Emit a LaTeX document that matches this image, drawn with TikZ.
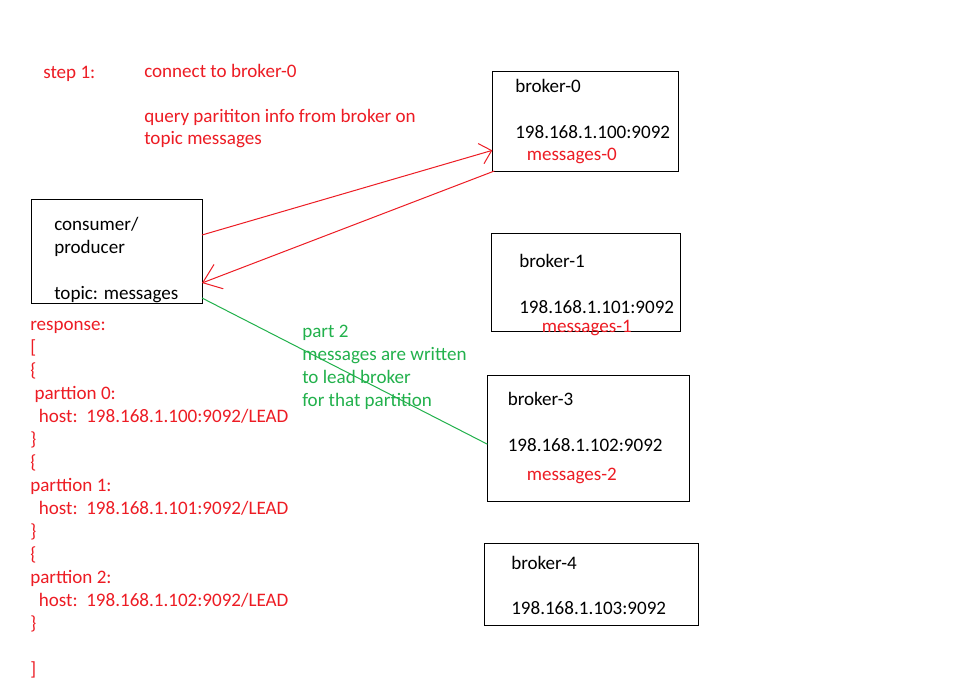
\documentclass[tikz,border=0pt]{standalone}
\usepackage{fontspec}
\setmainfont{Carlito}
\usetikzlibrary{arrows.meta,calc}
\definecolor{pred}{RGB}{237,28,36}
\definecolor{pgreen}{RGB}{34,177,76}
\begin{document}
\begin{tikzpicture}[x=0.75pt,y=-0.75pt,
  every node/.style={font=\fontsize{14.3}{17.25}\selectfont},
  box/.style={draw=black,line width=0.75pt,rectangle,inner sep=0pt,outer sep=0pt},
  txt/.style={anchor=base west,inner sep=0pt,text=black},
  rtxt/.style={anchor=base west,inner sep=0pt,text=pred},
  gtxt/.style={anchor=base west,inner sep=0pt,text=pgreen},
  redarrow/.style={draw=pred,line width=0.75pt},
  greenline/.style={draw=pgreen,line width=0.75pt}]
\useasboundingbox[fill=white] (0,0) rectangle (960,686);

% boxes
\node[box,minimum width=128.25pt,minimum height=78pt] (cp) at (116.5,251) {};
\node[box,minimum width=139.8pt,minimum height=74.5pt] (b0) at (585.5,121.35) {};
\node[box,minimum width=141.45pt,minimum height=73pt] (b1) at (586,282.35) {};
\node[box,minimum width=151.5pt,minimum height=95pt] (b3) at (588.3,438.65) {};
\node[box,minimum width=160.8pt,minimum height=61pt] (b4) at (591.5,584.65) {};

% step 1 texts
\node[rtxt] (s1) at (43,78) {step 1:};
\node[rtxt] (s2) at (144,77) {connect to broker-0};
\node[rtxt] (s3) at (144,122) {query parititon info from broker on};
\node[rtxt] (s4) at (144,144.5) {topic messages};

% consumer text
\node[txt] (c1) at (54,230) {consumer/};
\node[txt] (c2) at (54,253) {producer};
\node[txt] (c3) at (54,299) {topic: messages};

% broker texts
\node[txt] (b0a) at (515,92) {broker-0};
\node[txt] (b0b) at (515,138) {198.168.1.100:9092};
\node[rtxt] (b0c) at (526.5,160.5) {messages-0};

\node[txt] (b1a) at (519,267.5) {broker-1};
\node[txt] (b1b) at (519,313.5) {198.168.1.101:9092};
\node[rtxt] (b1c) at (541.5,332) {messages-1};

\node[txt] (b3a) at (507.5,405.7) {broker-3};
\node[txt] (b3b) at (507.5,451.7) {198.168.1.102:9092};
\node[rtxt] (b3c) at (526.5,480) {messages-2};

\node[txt] (b4a) at (511,569) {broker-4};
\node[txt] (b4b) at (511,614.3) {198.168.1.103:9092};

% response text
\node[rtxt] (r1) at (30,330.7) {response:};
\node[rtxt] (r2) at (30,353.7) {[};
\node[rtxt] (r3) at (30,376.7) {\{};
\node[rtxt] (r4) at (30,399.7) {\ parttion 0:};
\node[rtxt] (r5) at (30,422.7) {\ \ host:\ \ 198.168.1.100:9092/LEAD};
\node[rtxt] (r6) at (30,445.7) {\}};
\node[rtxt] (r7) at (30,468.7) {\{};
\node[rtxt] (r8) at (30,491.7) {parttion 1:};
\node[rtxt] (r9) at (30,514.7) {\ \ host:\ \ 198.168.1.101:9092/LEAD};
\node[rtxt] (r10) at (30,537.7) {\}};
\node[rtxt] (r11) at (30,560.7) {\{};
\node[rtxt] (r12) at (30,583.7) {parttion 2:};
\node[rtxt] (r13) at (30,606.7) {\ \ host:\ \ 198.168.1.102:9092/LEAD};
\node[rtxt] (r14) at (30,629.7) {\}};
\node[rtxt] (r15) at (30,675.7) {]};

% part 2 text
\node[gtxt] (g1) at (302,337.3) {part 2};
\node[gtxt] (g2) at (302,360.3) {messages are written};
\node[gtxt] (g3) at (302,383.3) {to lead broker};
\node[gtxt] (g4) at (302,406.3) {for that partition};

% connectors
\coordinate (a1s) at ($(cp.east)+(0,-16)$);
\coordinate (a1e) at ($(b0.west)+(0,29)$);
\coordinate (a2e) at ($(cp.east)+(0,32)$);
\coordinate (gs) at ($(cp.south east)+(0,-5)$);
\coordinate (ge) at ($(b3.west)+(0,5.5)$);
\draw[redarrow,-{Straight Barb[length=8.25pt,width=15.75pt,line width=0.75pt]}] (a1s) -- (a1e);
\draw[redarrow,-{Straight Barb[length=12.75pt,width=19.5pt,line width=0.75pt]}] ($(b0.south west)+(2,0)$) -- (a2e);
\draw[greenline] (gs) -- (ge);
\end{tikzpicture}
\end{document}
